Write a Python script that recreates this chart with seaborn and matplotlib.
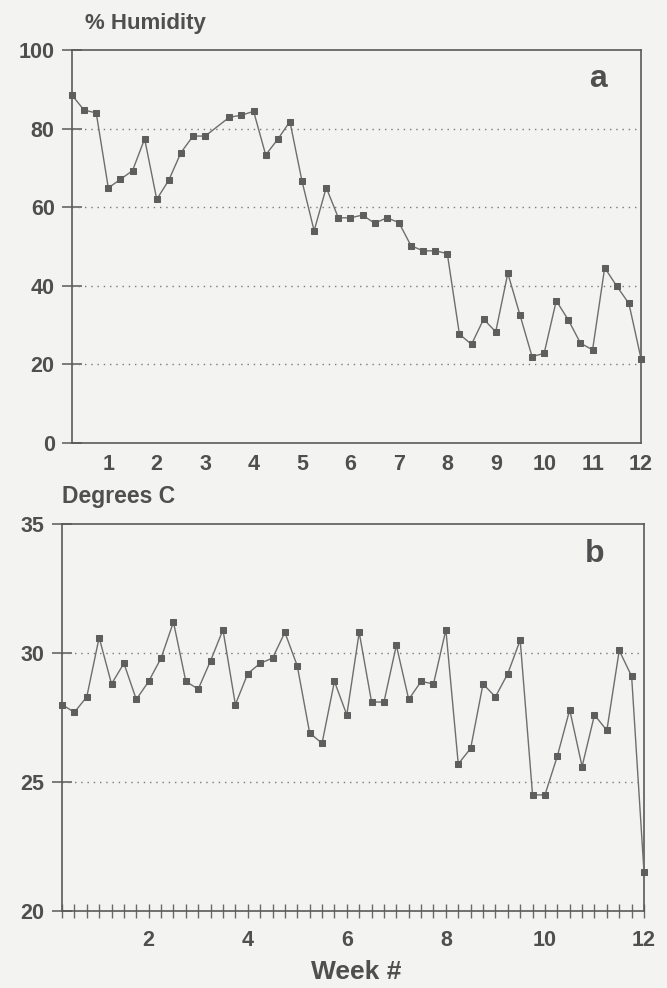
import numpy as np
import pandas as pd
import matplotlib
matplotlib.use("Agg")
import matplotlib.pyplot as plt
import seaborn as sns
from matplotlib.ticker import MultipleLocator

# ---- data -----------------------------------------------------------
weeks = np.arange(1, 49) * 0.25          # sampling every quarter week
humidity = [88.5, 84.7, 84.0, 64.9, 67.1, 69.3, 77.4, 62.0, 66.9, 73.9,
            78.1, 78.1, np.nan, 82.9, 83.4, 84.4, 73.3, 77.3, 81.8, 66.6,
            54.0, 65.0, 57.3, 57.3, 58.0, 55.9, 57.3, 56.1, 50.2, 48.9,
            48.9, 48.2, 27.7, 25.1, 31.5, 28.3, 43.2, 32.6, 22.0, 22.8,
            36.2, 31.3, 25.4, 23.7, 44.6, 39.9, 35.5, 21.5]
temperature = [28.0, 27.7, 28.3, 30.6, 28.8, 29.6, 28.2, 28.9, 29.8, 31.2,
               28.9, 28.6, 29.7, 30.9, 28.0, 29.2, 29.6, 29.8, 30.8, 29.5,
               26.9, 26.5, 28.9, 27.6, 30.8, 28.1, 28.1, 30.3, 28.2, 28.9,
               28.8, 30.9, 25.7, 26.3, 28.8, 28.3, 29.2, 30.5, 24.5, 24.5,
               26.0, 27.8, 25.6, 27.6, 27.0, 30.1, 29.1, 21.5]
hum_ticks = [0, 20, 40, 60, 80, 100]
hum_grid = [20, 40, 60, 80]
temp_ticks = [20, 25, 30, 35]
temp_grid = [25, 30]
week_labels_a = list(range(1, 13))
week_labels_b = [2, 4, 6, 8, 10, 12]

df_h = pd.DataFrame({"week": weeks, "value": humidity}).dropna()
df_t = pd.DataFrame({"week": weeks, "value": temperature})

# ---- style ----------------------------------------------------------
sns.set_theme(style="white")
paper = "#f3f3f1"
ink = "#4f4f4f"
line_c = "#6e6e6e"
plt.rcParams["font.family"] = ["Liberation Sans", "DejaVu Sans"]
plt.rcParams["font.weight"] = "bold"

fig = plt.figure(figsize=(6.67, 9.88), dpi=100, facecolor=paper)
W, H = 667.0, 988.0

def frac(l, r, t, b):
    return [l / W, 1 - b / H, (r - l) / W, (b - t) / H]

ax_a = fig.add_axes(frac(72, 641, 50, 443), facecolor=paper)
ax_b = fig.add_axes(frac(62, 644, 524, 911), facecolor=paper)

TL = 15.5  # tick label size

for ax, df, ylim, yt, grid in [
    (ax_a, df_h, (0, 100), hum_ticks, hum_grid),
    (ax_b, df_t, (20, 35), temp_ticks, temp_grid),
]:
    for g in grid:
        ax.axhline(g, color="#7a7a7a", lw=1.0, ls=(0, (1, 3.5)), zorder=1)
    sns.lineplot(data=df, x="week", y="value", ax=ax, color=line_c, lw=1.0,
                 marker="s", markersize=3.8, markerfacecolor="#5e5e5e",
                 markeredgecolor="#5e5e5e", zorder=3, clip_on=False)
    ax.set_ylim(*ylim)
    ax.set_xlim(0.25, 12.0)
    ax.set_yticks(yt)
    ax.set_yticklabels([str(v) for v in yt])
    ax.set_xlabel("")
    ax.set_ylabel("")
    for s in ax.spines.values():
        s.set_color("#5a5a5a")
        s.set_linewidth(1.2)
        s.set_visible(True)
    ax.tick_params(axis="y", direction="inout", length=15, width=1.1,
                   color="#5a5a5a", labelcolor=ink, labelsize=TL, pad=5,
                   left=True)
    for lab in ax.get_yticklabels():
        lab.set_fontweight("bold")

# panel a x axis: labels only
ax_a.set_xticks(week_labels_a)
ax_a.set_xticklabels([str(v) for v in week_labels_a])
ax_a.tick_params(axis="x", length=0, pad=8, labelcolor=ink, labelsize=TL,
                 bottom=True)

# panel b x axis: quarter-week ticks, labels every 2 weeks
ax_b.set_xticks(week_labels_b)
ax_b.set_xticklabels([str(v) for v in week_labels_b])
ax_b.xaxis.set_minor_locator(MultipleLocator(0.25))
ax_b.tick_params(axis="x", which="both", direction="inout", length=9.5,
                 width=1.0, color="#6a6a6a", bottom=True)
ax_b.tick_params(axis="x", which="major", pad=9, labelcolor=ink,
                 labelsize=TL)
for ax in (ax_a, ax_b):
    for lab in ax.get_xticklabels():
        lab.set_fontweight("bold")

# panel letters
ax_a.text(0.925, 0.906, "a", transform=ax_a.transAxes, ha="center",
          va="baseline", fontsize=23, fontweight="bold", color=ink)
ax_b.text(0.916, 0.902, "b", transform=ax_b.transAxes, ha="center",
          va="baseline", fontsize=23, fontweight="bold", color=ink)

# axis titles
fig.text(85 / W, 1 - 29 / H, "% Humidity", ha="left", va="baseline",
         fontsize=16, fontweight="bold", color=ink)
fig.text(62 / W, 1 - 503 / H, "Degrees C", ha="left", va="baseline",
         fontsize=16.5, fontweight="bold", color=ink)
fig.text(356 / W, 1 - 979 / H, "Week #", ha="center", va="baseline",
         fontsize=19, fontweight="bold", color=ink)

fig.savefig("out.png", dpi=100, facecolor=paper)
